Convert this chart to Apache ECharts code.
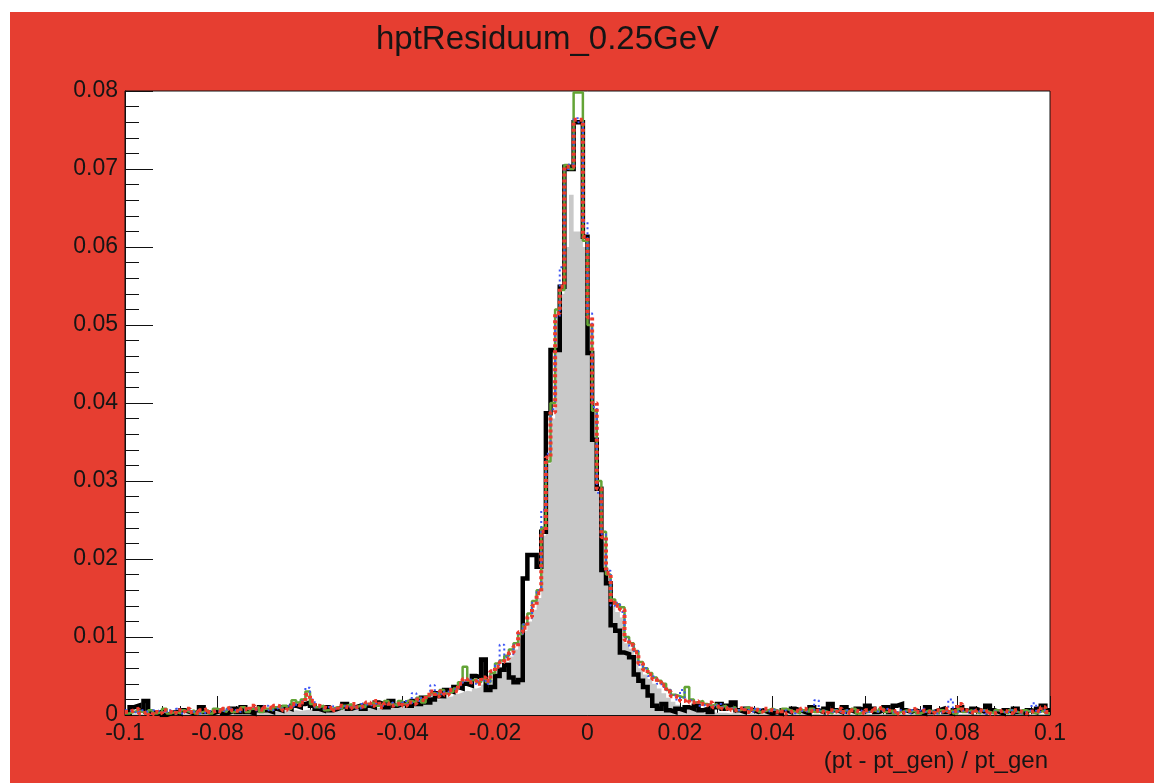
<!DOCTYPE html>
<html>
<head>
<meta charset="utf-8">
<title>hptResiduum_0.25GeV</title>
<script src="https://cdn.jsdelivr.net/npm/echarts@6/dist/echarts.min.js"></script>
<style>
  html, body { margin: 0; padding: 0; background: #ffffff; }
  #chart { position: absolute; left: 10px; top: 12px; width: 1144px; height: 771px; }
</style>
</head>
<body>
<div id="chart"></div>
<script>
// Histogram binning: 200 bins of width 0.001 from -0.1 to 0.1
const titleText = 'hptResiduum_0.25GeV';
const xAxisTitle = '(pt - pt_gen) / pt_gen';
const binLow = -0.1;
const binWidth = 0.001;
const nBins = 200;
const xTicks = [-0.1, -0.08, -0.06, -0.04, -0.02, 0, 0.02, 0.04, 0.06, 0.08, 0.1];
const yTicks = [0, 0.01, 0.02, 0.03, 0.04, 0.05, 0.06, 0.07, 0.08];

// Filled reference histogram (grey)
const histFilled = [
  0.0001,0.0002,0.0001,0.0002,0.0001,0.0001,0.0002,0.0001,0.0002,0.0001,
  0.0002,0.0001,0.0002,0.0002,0.0001,0.0002,0.0002,0.0003,0.0002,0.0002,
  0.0003,0.0002,0.0003,0.0003,0.0002,0.0003,0.0003,0.0004,0.0003,0.0004,
  0.0004,0.0004,0.0005,0.0004,0.0005,0.0005,0.0006,0.0005,0.0006,0.0007,
  0.0006,0.0006,0.0007,0.0006,0.0007,0.0007,0.0008,0.0007,0.0008,0.0008,
  0.0009,0.0008,0.0009,0.0010,0.0009,0.0010,0.0011,0.0010,0.0011,0.0012,
  0.0012,0.0014,0.0013,0.0015,0.0016,0.0018,0.0017,0.0020,0.0021,0.0023,
  0.0024,0.0027,0.0029,0.0031,0.0030,0.0034,0.0036,0.0039,0.0041,0.0045,
  0.0056,0.0062,0.0068,0.0075,0.0084,0.0098,0.0108,0.0120,0.0135,0.0150,
  0.0230,0.0322,0.0380,0.0505,0.0540,0.0600,0.0667,0.0620,0.0620,0.0600,
  0.0500,0.0392,0.0285,0.0222,0.0176,0.0140,0.0132,0.0125,0.0092,0.0085,
  0.0074,0.0060,0.0052,0.0046,0.0040,0.0034,0.0028,0.0022,0.0017,0.0013,
  0.0010,0.0008,0.0007,0.0006,0.0005,0.0004,0.0004,0.0003,0.0003,0.0003,
  0.0002,0.0003,0.0002,0.0002,0.0003,0.0002,0.0002,0.0002,0.0001,0.0002,
  0.0002,0.0001,0.0002,0.0001,0.0002,0.0001,0.0001,0.0002,0.0001,0.0001,
  0.0002,0.0001,0.0001,0.0002,0.0001,0.0001,0.0001,0.0002,0.0001,0.0001,
  0.0001,0.0001,0.0002,0.0001,0.0001,0.0001,0.0001,0.0001,0.0002,0.0001,
  0.0001,0.0001,0.0001,0.0001,0.0001,0.0001,0.0001,0.0001,0.0001,0.0001,
  0.0001,0.0001,0.0001,0.0001,0.0001,0.0001,0.0001,0.0001,0.0001,0.0001,
  0.0001,0.0001,0.0001,0.0001,0.0001,0.0001,0.0001,0.0001,0.0001,0.0001
];

// Thick black histogram
const histBlack = [
  0.0002,0.0010,0.0012,0.0006,0.0018,0.0004,0.0002,0.0004,0.0000,0.0002,
  0.0004,0.0002,0.0006,0.0004,0.0002,0.0004,0.0010,0.0004,0.0002,0.0004,
  0.0006,0.0002,0.0004,0.0008,0.0004,0.0010,0.0004,0.0002,0.0006,0.0010,
  0.0006,0.0004,0.0008,0.0006,0.0010,0.0008,0.0012,0.0010,0.0014,0.0016,
  0.0012,0.0008,0.0006,0.0010,0.0006,0.0008,0.0010,0.0014,0.0008,0.0010,
  0.0012,0.0008,0.0012,0.0010,0.0016,0.0014,0.0010,0.0018,0.0012,0.0014,
  0.0016,0.0012,0.0018,0.0014,0.0022,0.0016,0.0020,0.0028,0.0024,0.0032,
  0.0030,0.0036,0.0034,0.0040,0.0038,0.0050,0.0048,0.0071,0.0032,0.0036,
  0.0050,0.0058,0.0064,0.0048,0.0042,0.0045,0.0175,0.0205,0.0205,0.0190,
  0.0235,0.0387,0.0468,0.0468,0.0549,0.0703,0.0700,0.0760,0.0760,0.0613,
  0.0464,0.0353,0.0290,0.0186,0.0169,0.0115,0.0108,0.0080,0.0078,0.0074,
  0.0052,0.0044,0.0036,0.0025,0.0012,0.0008,0.0014,0.0006,0.0004,0.0008,
  0.0006,0.0010,0.0008,0.0012,0.0006,0.0008,0.0004,0.0010,0.0014,0.0008,
  0.0012,0.0016,0.0006,0.0004,0.0008,0.0006,0.0004,0.0006,0.0004,0.0002,
  0.0004,0.0002,0.0006,0.0004,0.0008,0.0006,0.0004,0.0002,0.0010,0.0006,
  0.0004,0.0008,0.0014,0.0006,0.0004,0.0010,0.0006,0.0004,0.0008,0.0006,
  0.0012,0.0008,0.0004,0.0006,0.0010,0.0004,0.0012,0.0014,0.0006,0.0004,
  0.0006,0.0004,0.0002,0.0010,0.0004,0.0006,0.0008,0.0004,0.0002,0.0006,
  0.0010,0.0006,0.0004,0.0008,0.0006,0.0004,0.0012,0.0006,0.0004,0.0002,
  0.0006,0.0004,0.0008,0.0004,0.0002,0.0006,0.0004,0.0008,0.0012,0.0006
];

// Green histogram
const histGreen = [
  0.0002,0.0004,0.0006,0.0004,0.0002,0.0006,0.0002,0.0004,0.0008,0.0002,
  0.0004,0.0002,0.0006,0.0004,0.0006,0.0002,0.0004,0.0006,0.0002,0.0008,
  0.0006,0.0004,0.0008,0.0004,0.0006,0.0010,0.0004,0.0008,0.0010,0.0004,
  0.0008,0.0006,0.0010,0.0008,0.0012,0.0008,0.0019,0.0016,0.0020,0.0030,
  0.0014,0.0010,0.0012,0.0006,0.0008,0.0010,0.0008,0.0012,0.0014,0.0010,
  0.0012,0.0010,0.0014,0.0016,0.0012,0.0014,0.0018,0.0014,0.0012,0.0018,
  0.0014,0.0018,0.0016,0.0022,0.0016,0.0024,0.0028,0.0026,0.0032,0.0028,
  0.0030,0.0034,0.0042,0.0062,0.0044,0.0046,0.0042,0.0046,0.0042,0.0054,
  0.0066,0.0070,0.0076,0.0084,0.0092,0.0104,0.0116,0.0130,0.0146,0.0160,
  0.0240,0.0325,0.0400,0.0520,0.0545,0.0705,0.0700,0.0798,0.0798,0.0608,
  0.0500,0.0390,0.0300,0.0235,0.0180,0.0148,0.0142,0.0138,0.0100,0.0092,
  0.0082,0.0068,0.0060,0.0054,0.0048,0.0044,0.0040,0.0032,0.0026,0.0024,
  0.0022,0.0036,0.0020,0.0016,0.0018,0.0014,0.0012,0.0014,0.0010,0.0012,
  0.0008,0.0010,0.0006,0.0008,0.0010,0.0006,0.0008,0.0004,0.0006,0.0008,
  0.0006,0.0004,0.0008,0.0006,0.0004,0.0002,0.0006,0.0004,0.0008,0.0004,
  0.0006,0.0004,0.0002,0.0006,0.0004,0.0006,0.0004,0.0008,0.0002,0.0004,
  0.0004,0.0006,0.0004,0.0008,0.0004,0.0006,0.0002,0.0004,0.0006,0.0004,
  0.0006,0.0002,0.0004,0.0006,0.0004,0.0002,0.0006,0.0004,0.0006,0.0002,
  0.0008,0.0004,0.0006,0.0004,0.0002,0.0006,0.0004,0.0002,0.0006,0.0004,
  0.0002,0.0006,0.0004,0.0002,0.0006,0.0004,0.0002,0.0004,0.0006,0.0002
];

// Blue dotted histogram
const histBlue = [
  0.0006,0.0004,0.0002,0.0006,0.0004,0.0002,0.0006,0.0004,0.0002,0.0006,
  0.0004,0.0008,0.0002,0.0006,0.0004,0.0006,0.0002,0.0004,0.0006,0.0004,
  0.0006,0.0004,0.0008,0.0006,0.0004,0.0006,0.0008,0.0010,0.0006,0.0008,
  0.0012,0.0006,0.0008,0.0012,0.0008,0.0012,0.0010,0.0014,0.0018,0.0035,
  0.0020,0.0010,0.0008,0.0010,0.0012,0.0008,0.0010,0.0012,0.0010,0.0012,
  0.0008,0.0014,0.0012,0.0014,0.0016,0.0012,0.0014,0.0016,0.0012,0.0014,
  0.0018,0.0014,0.0028,0.0018,0.0022,0.0024,0.0038,0.0028,0.0026,0.0030,
  0.0034,0.0032,0.0038,0.0044,0.0046,0.0040,0.0044,0.0046,0.0040,0.0058,
  0.0064,0.0090,0.0074,0.0078,0.0090,0.0104,0.0116,0.0124,0.0144,0.0160,
  0.0263,0.0335,0.0392,0.0510,0.0574,0.0700,0.0706,0.0765,0.0760,0.0632,
  0.0515,0.0395,0.0285,0.0232,0.0185,0.0140,0.0144,0.0132,0.0098,0.0088,
  0.0082,0.0064,0.0060,0.0050,0.0048,0.0040,0.0036,0.0032,0.0026,0.0020,
  0.0032,0.0018,0.0020,0.0016,0.0012,0.0014,0.0012,0.0010,0.0014,0.0010,
  0.0008,0.0010,0.0006,0.0008,0.0006,0.0004,0.0008,0.0006,0.0004,0.0006,
  0.0008,0.0004,0.0006,0.0004,0.0002,0.0006,0.0004,0.0006,0.0004,0.0019,
  0.0006,0.0004,0.0002,0.0006,0.0004,0.0002,0.0006,0.0004,0.0006,0.0004,
  0.0002,0.0006,0.0004,0.0006,0.0008,0.0004,0.0002,0.0006,0.0004,0.0002,
  0.0006,0.0004,0.0008,0.0004,0.0006,0.0002,0.0004,0.0006,0.0020,0.0004,
  0.0006,0.0004,0.0002,0.0006,0.0004,0.0006,0.0002,0.0004,0.0006,0.0004,
  0.0002,0.0006,0.0004,0.0002,0.0004,0.0006,0.0015,0.0004,0.0006,0.0002
];

// Red dotted histogram
const histRed = [
  0.0004,0.0006,0.0008,0.0002,0.0004,0.0000,0.0004,0.0002,0.0006,0.0004,
  0.0002,0.0006,0.0004,0.0008,0.0004,0.0002,0.0006,0.0008,0.0004,0.0006,
  0.0004,0.0008,0.0010,0.0006,0.0004,0.0008,0.0006,0.0012,0.0008,0.0006,
  0.0010,0.0008,0.0012,0.0010,0.0006,0.0010,0.0014,0.0012,0.0016,0.0026,
  0.0018,0.0012,0.0010,0.0008,0.0010,0.0006,0.0012,0.0010,0.0008,0.0014,
  0.0010,0.0012,0.0016,0.0012,0.0018,0.0010,0.0015,0.0012,0.0014,0.0016,
  0.0012,0.0016,0.0014,0.0020,0.0018,0.0026,0.0030,0.0024,0.0030,0.0026,
  0.0032,0.0030,0.0040,0.0046,0.0042,0.0044,0.0040,0.0048,0.0044,0.0056,
  0.0062,0.0068,0.0072,0.0080,0.0088,0.0106,0.0112,0.0126,0.0140,0.0156,
  0.0235,0.0330,0.0388,0.0515,0.0549,0.0703,0.0703,0.0763,0.0763,0.0613,
  0.0510,0.0400,0.0290,0.0228,0.0182,0.0144,0.0140,0.0135,0.0096,0.0090,
  0.0080,0.0066,0.0058,0.0052,0.0046,0.0042,0.0038,0.0030,0.0024,0.0022,
  0.0018,0.0020,0.0016,0.0018,0.0014,0.0012,0.0016,0.0010,0.0012,0.0008,
  0.0010,0.0006,0.0008,0.0010,0.0004,0.0008,0.0006,0.0004,0.0008,0.0006,
  0.0004,0.0006,0.0002,0.0004,0.0006,0.0004,0.0008,0.0006,0.0004,0.0006,
  0.0004,0.0002,0.0006,0.0004,0.0008,0.0004,0.0002,0.0006,0.0004,0.0002,
  0.0006,0.0004,0.0008,0.0010,0.0006,0.0004,0.0006,0.0002,0.0004,0.0006,
  0.0008,0.0004,0.0006,0.0004,0.0002,0.0006,0.0004,0.0008,0.0004,0.0006,
  0.0014,0.0006,0.0004,0.0002,0.0006,0.0004,0.0006,0.0002,0.0004,0.0006,
  0.0004,0.0002,0.0006,0.0004,0.0002,0.0004,0.0006,0.0004,0.0010,0.0004
];

// Bin edges, and step-line points at each bin's lower edge plus the final upper edge
const binEdges = Array.from({ length: nBins + 1 }, (_, i) => +(binLow + i * binWidth).toFixed(4));
function toSteps(values) {
  const pts = values.map((v, i) => [binEdges[i], v]);
  pts.push([binEdges[nBins], values[nBins - 1]]);
  return pts;
}

const FONT = '"Liberation Sans", Arial, Helvetica, sans-serif';
const INK = '#151515';
const fmt = v => String(+(+v).toFixed(3));

const chart = echarts.init(document.getElementById('chart'), null, { renderer: 'canvas' });

const stepSeries = (name, values, lineStyle, extra) => Object.assign({
  name: name,
  type: 'line',
  step: 'end',
  symbol: 'none',
  silent: true,
  clip: true,
  data: toSteps(values),
  lineStyle: lineStyle
}, extra || {});

chart.setOption({
  animation: false,
  backgroundColor: '#e63e31',
  title: {
    text: titleText,
    left: 361,
    top: 6,
    textStyle: { fontFamily: FONT, fontSize: 33, fontWeight: 'normal', color: INK }
  },
  grid: {
    left: 115,
    top: 79,
    width: 925,
    height: 624,
    containLabel: false,
    outerBoundsMode: 'none',
    show: true,
    backgroundColor: '#ffffff',
    borderColor: '#111111',
    borderWidth: 1
  },
  xAxis: {
    type: 'value',
    min: xTicks[0],
    max: xTicks[xTicks.length - 1],
    interval: 0.02,
    name: xAxisTitle,
    nameLocation: 'end',
    nameGap: -2,
    nameTextStyle: {
      fontFamily: FONT, fontSize: 24, color: INK,
      align: 'right', verticalAlign: 'top', padding: [34, 0, 0, 0]
    },
    axisLine: { show: true, onZero: false, lineStyle: { color: '#111111', width: 1 } },
    axisTick: { show: true, inside: true, length: 19, lineStyle: { color: '#111111', width: 1 } },
    minorTick: { show: true, splitNumber: 5, length: 9, lineStyle: { color: '#111111', width: 1 } },
    splitLine: { show: false },
    axisLabel: {
      margin: 7, fontFamily: FONT, fontSize: 23, color: INK,
      showMinLabel: true, showMaxLabel: true,
      formatter: fmt
    }
  },
  yAxis: {
    type: 'value',
    min: yTicks[0],
    max: yTicks[yTicks.length - 1],
    interval: 0.01,
    axisLine: { show: true, onZero: false, lineStyle: { color: '#111111', width: 1 } },
    axisTick: { show: true, inside: true, length: 28, lineStyle: { color: '#111111', width: 1 } },
    minorTick: { show: true, splitNumber: 5, length: 14, lineStyle: { color: '#111111', width: 1 } },
    splitLine: { show: false },
    axisLabel: {
      margin: 7, fontFamily: FONT, fontSize: 23, color: INK,
      showMinLabel: true, showMaxLabel: true,
      formatter: fmt
    }
  },
  series: [
    stepSeries('filled', histFilled, { width: 0, color: '#c9c9c9' },
      { areaStyle: { color: '#c9c9c9', opacity: 1 }, itemStyle: { color: '#c9c9c9' } }),
    stepSeries('black', histBlack, { width: 4.5, color: '#000000', join: 'miter' },
      { itemStyle: { color: '#000000' } }),
    stepSeries('green', histGreen, { width: 2.5, color: '#63a436' },
      { itemStyle: { color: '#63a436' } }),
    stepSeries('blue', histBlue, { width: 2, color: '#3d55f5', type: [2, 3] },
      { itemStyle: { color: '#3d55f5' } }),
    stepSeries('red', histRed, { width: 4, color: '#ee3a2c', type: [3, 3] },
      { itemStyle: { color: '#ee3a2c' } })
  ]
});
</script>
</body>
</html>
